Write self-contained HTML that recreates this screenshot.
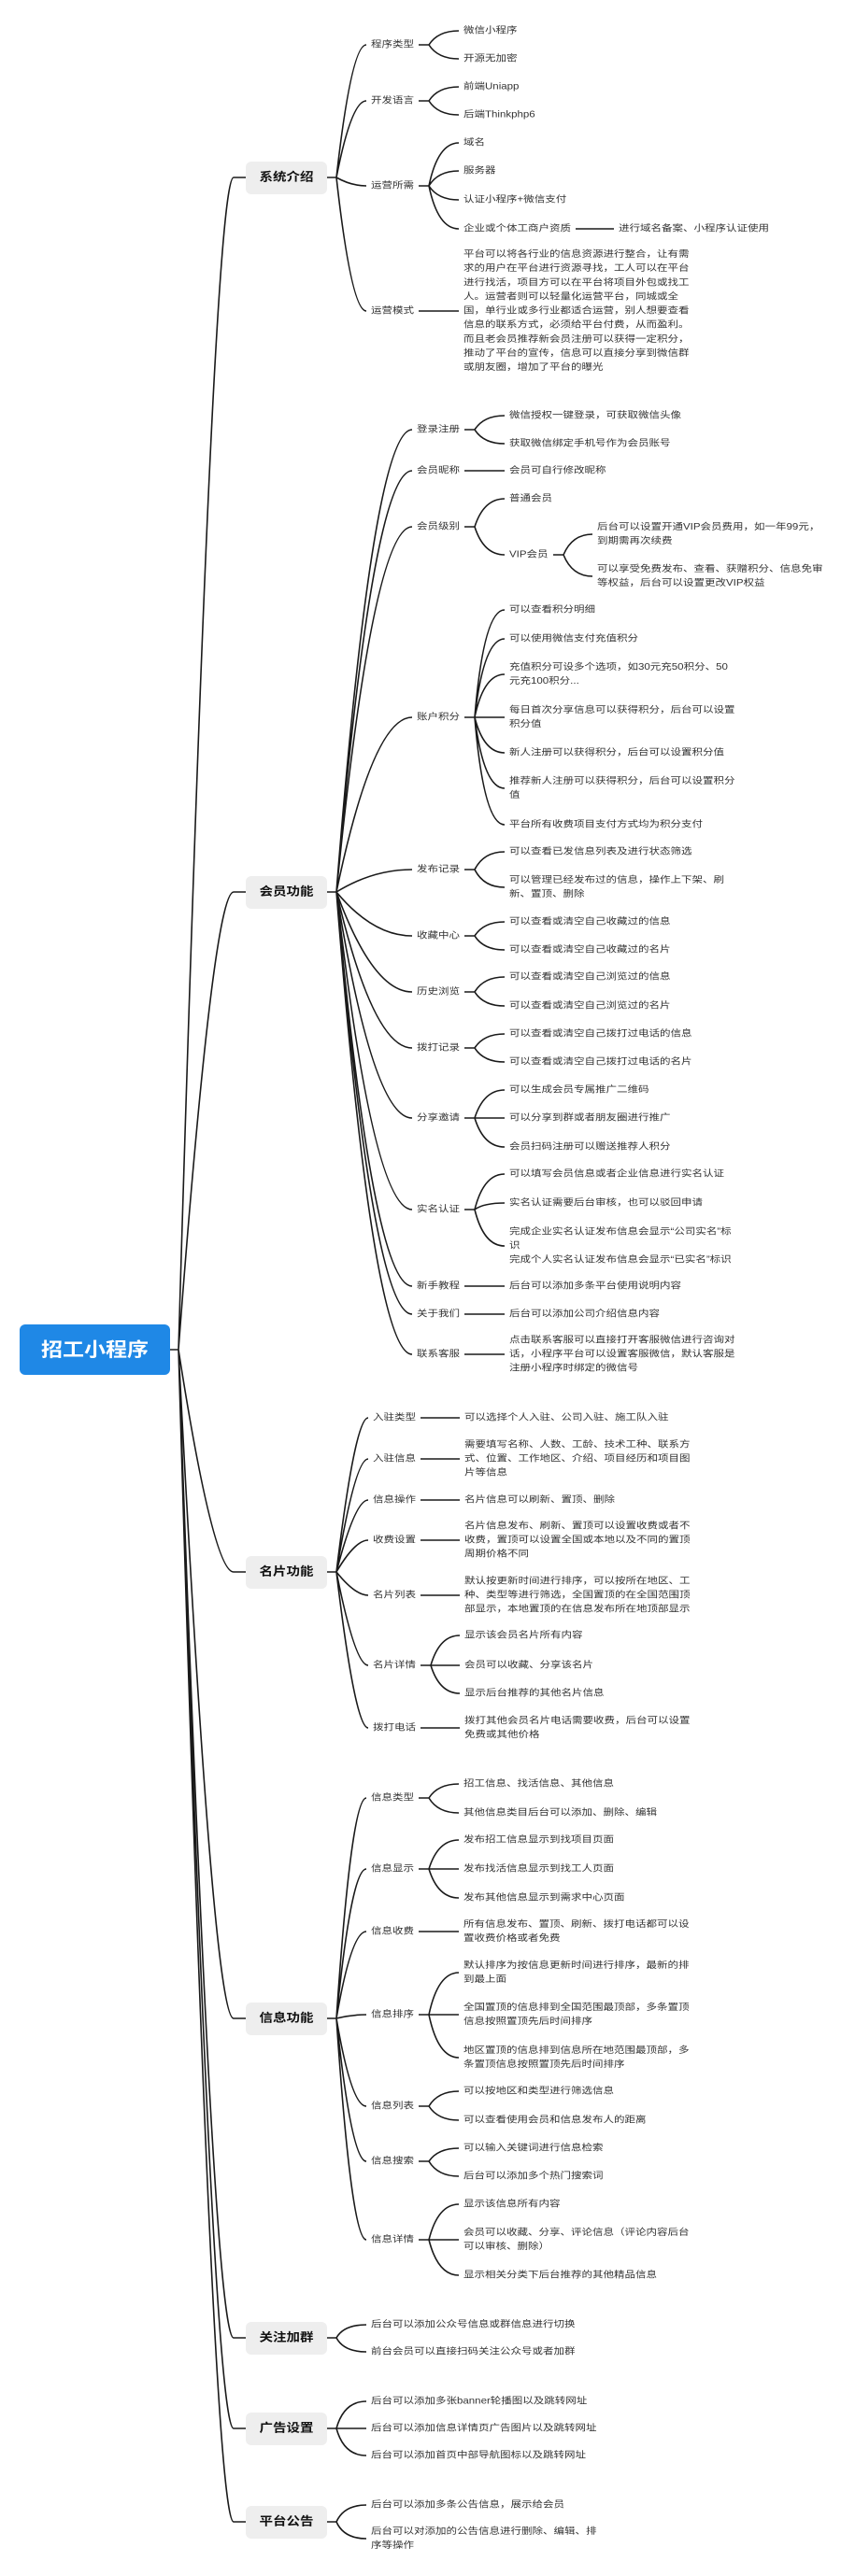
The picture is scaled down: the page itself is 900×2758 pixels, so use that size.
<!DOCTYPE html>
<html><head><meta charset="utf-8">
<style>
html,body{margin:0;padding:0;background:#fff}
#c{position:relative;width:900px;height:2758px;overflow:hidden;background:#fff}
svg{position:absolute;left:0;top:0}
.t{position:absolute;font-family:"Liberation Sans","Noto Sans CJK SC",sans-serif;font-size:11.5px;line-height:18px;color:#333;white-space:pre;transform:scaleY(.84);transform-origin:0 50%}
.box{position:absolute;left:263px;width:87px;height:35px;background:#eeeeee;border-radius:6px;text-align:center;line-height:35px;font-family:"Liberation Sans","Noto Sans CJK SC",sans-serif;font-weight:bold;font-size:14.5px;color:#111}
.box span,.root span{display:inline-block;transform:scaleY(.88)}
.root{position:absolute;left:21px;top:1418px;width:161px;height:54px;background:#1f88e6;border-radius:6px;text-align:center;line-height:54px;font-family:"Liberation Sans","Noto Sans CJK SC",sans-serif;font-weight:bold;font-size:23px;color:#fff}
</style></head><body>
<div id="c">
<svg id="s" width="900" height="2758"><path id="p" fill="none" stroke="#1a1a1a" stroke-width="1.6"/></svg>
<div class="root"><span>招工小程序</span></div>
</div>
<script>
const C=document.getElementById('c');const LH=18;let P='M182 1445H191';
function addText(x,yc,txt){const d=document.createElement('div');d.className='t';d.textContent=txt;const n=txt.split('\n').length;d.style.left=x+'px';d.style.top=(yc-n*LH/2)+'px';C.appendChild(d);return d.offsetWidth;}
function place(pe,py,kids,x){const br=pe+11;for(const k of kids){const w=addText(x,k[1],k[0]);const e=x-5;
if(kids.length==1&&Math.abs(k[1]-py)<1)P+=`M${pe} ${py}H${e}`;else P+=`M${pe} ${py}H${br}Q${br+(e-br)*0.3} ${k[1]} ${e} ${k[1]}`;
if(k[2])place(x+w+5,k[1],k[2],k[3]);}}
const G=[
['系统介绍',190,397,496,376,[
['程序类型',48,[['微信小程序',33],['开源无加密',63]]],
['开发语言',108,[['前端Uniapp',93],['后端Thinkphp6',123]]],
['运营所需',199,[['域名',153],['服务器',183],['认证小程序+微信支付',214],['企业或个体工商户资质',245,[['进行域名备案、小程序认证使用',245]],662]]],
['运营模式',333,[['平台可以将各行业的信息资源进行整合，让有需\n求的用户在平台进行资源寻找，工人可以在平台\n进行找活，项目方可以在平台将项目外包或找工\n人。运营者则可以轻量化运营平台，同城或全\n国，单行业或多行业都适合运营，别人想要查看\n信息的联系方式，必须给平台付费，从而盈利。\n而且老会员推荐新会员注册可以获得一定积分，\n推动了平台的宣传，信息可以直接分享到微信群\n或朋友圈，增加了平台的曝光',333]]]
]],
['会员功能',955,446,545,399,[
['登录注册',460,[['微信授权一键登录，可获取微信头像',445],['获取微信绑定手机号作为会员账号',475]]],
['会员昵称',504,[['会员可自行修改昵称',504]]],
['会员级别',564,[['普通会员',534],['VIP会员',594,[['后台可以设置开通VIP会员费用，如一年99元，\n到期需再次续费',572],['可以享受免费发布、查看、获赠积分、信息免审\n等权益，后台可以设置更改VIP权益',617]],639]]],
['账户积分',768,[['可以查看积分明细',653],['可以使用微信支付充值积分',684],['充值积分可设多个选项，如30元充50积分、50\n元充100积分...',722],['每日首次分享信息可以获得积分，后台可以设置\n积分值',768],['新人注册可以获得积分，后台可以设置积分值',806],['推荐新人注册可以获得积分，后台可以设置积分\n值',844],['平台所有收费项目支付方式均为积分支付',883]]],
['发布记录',931,[['可以查看已发信息列表及进行状态筛选',912],['可以管理已经发布过的信息，操作上下架、刷\n新、置顶、删除',950]]],
['收藏中心',1002,[['可以查看或清空自己收藏过的信息',987],['可以查看或清空自己收藏过的名片',1017]]],
['历史浏览',1062,[['可以查看或清空自己浏览过的信息',1046],['可以查看或清空自己浏览过的名片',1077]]],
['拨打记录',1122,[['可以查看或清空自己拨打过电话的信息',1107],['可以查看或清空自己拨打过电话的名片',1137]]],
['分享邀请',1197,[['可以生成会员专属推广二维码',1167],['可以分享到群或者朋友圈进行推广',1197],['会员扫码注册可以赠送推荐人积分',1228]]],
['实名认证',1295,[['可以填写会员信息或者企业信息进行实名认证',1257],['实名认证需要后台审核，也可以驳回申请',1288],['完成企业实名认证发布信息会显示“公司实名”标\n识\n完成个人实名认证发布信息会显示“已实名”标识',1334]]],
['新手教程',1377,[['后台可以添加多条平台使用说明内容',1377]]],
['关于我们',1407,[['后台可以添加公司介绍信息内容',1407]]],
['联系客服',1450,[['点击联系客服可以直接打开客服微信进行咨询对\n话，小程序平台可以设置客服微信，默认客服是\n注册小程序时绑定的微信号',1450]]]
]],
['名片功能',1683,399,497,380,[
['入驻类型',1518,[['可以选择个人入驻、公司入驻、施工队入驻',1518]]],
['入驻信息',1562,[['需要填写名称、人数、工龄、技术工种、联系方\n式、位置、工作地区、介绍、项目经历和项目图\n片等信息',1562]]],
['信息操作',1606,[['名片信息可以刷新、置顶、删除',1606]]],
['收费设置',1649,[['名片信息发布、刷新、置顶可以设置收费或者不\n收费，置顶可以设置全国或本地以及不同的置顶\n周期价格不同',1649]]],
['名片列表',1708,[['默认按更新时间进行排序，可以按所在地区、工\n种、类型等进行筛选，全国置顶的在全国范围顶\n部显示，本地置顶的在信息发布所在地顶部显示',1708]]],
['名片详情',1783,[['显示该会员名片所有内容',1751],['会员可以收藏、分享该名片',1783],['显示后台推荐的其他名片信息',1813]]],
['拨打电话',1850,[['拨打其他会员名片电话需要收费，后台可以设置\n免费或其他价格',1850]]]
]],
['信息功能',2161,397,496,376,[
['信息类型',1925,[['招工信息、找活信息、其他信息',1910],['其他信息类目后台可以添加、删除、编辑',1941]]],
['信息显示',2001,[['发布招工信息显示到找项目页面',1970],['发布找活信息显示到找工人页面',2001],['发布其他信息显示到需求中心页面',2032]]],
['信息收费',2068,[['所有信息发布、置顶、刷新、拨打电话都可以设\n置收费价格或者免费',2068]]],
['信息排序',2157,[['默认排序为按信息更新时间进行排序，最新的排\n到最上面',2112],['全国置顶的信息排到全国范围最顶部，多条置顶\n信息按照置顶先后时间排序',2157],['地区置顶的信息排到信息所在地范围最顶部，多\n条置顶信息按照置顶先后时间排序',2203]]],
['信息列表',2255,[['可以按地区和类型进行筛选信息',2239],['可以查看使用会员和信息发布人的距离',2270]]],
['信息搜索',2314,[['可以输入关键词进行信息检索',2300],['后台可以添加多个热门搜索词',2330]]],
['信息详情',2398,[['显示该信息所有内容',2360],['会员可以收藏、分享、评论信息（评论内容后台\n可以审核、删除）',2398],['显示相关分类下后台推荐的其他精品信息',2436]]]
]],
['关注加群',2503,397,0,368,[['后台可以添加公众号信息或群信息进行切换',2489],['前台会员可以直接扫码关注公众号或者加群',2518]]],
['广告设置',2600,397,0,368,[['后台可以添加多张banner轮播图以及跳转网址',2571],['后台可以添加信息详情页广告图片以及跳转网址',2600],['后台可以添加首页中部导航图标以及跳转网址',2629]]],
['平台公告',2700,397,0,368,[['后台可以添加多条公告信息，展示给会员',2682],['后台可以对添加的公告信息进行删除、编辑、排\n序等操作',2718]]]
];
for(const g of G){const [name,gy,lx,leafx,ctrl,kids]=g;
const b=document.createElement('div');b.className='box';b.style.top=(gy-17.5)+'px';b.innerHTML='<span>'+name+'</span>';C.appendChild(b);
P+=`M191 1445Q228 ${gy} 250 ${gy}H263`;
for(const k of kids){const w=addText(lx,k[1],k[0]);
P+=`M350 ${gy}H360Q${ctrl} ${k[1]} ${lx-5} ${k[1]}`;
if(k[2]&&leafx)place(lx+w+5,k[1],k[2],leafx);}}
document.getElementById('p').setAttribute('d',P);
</script>
</body></html>
